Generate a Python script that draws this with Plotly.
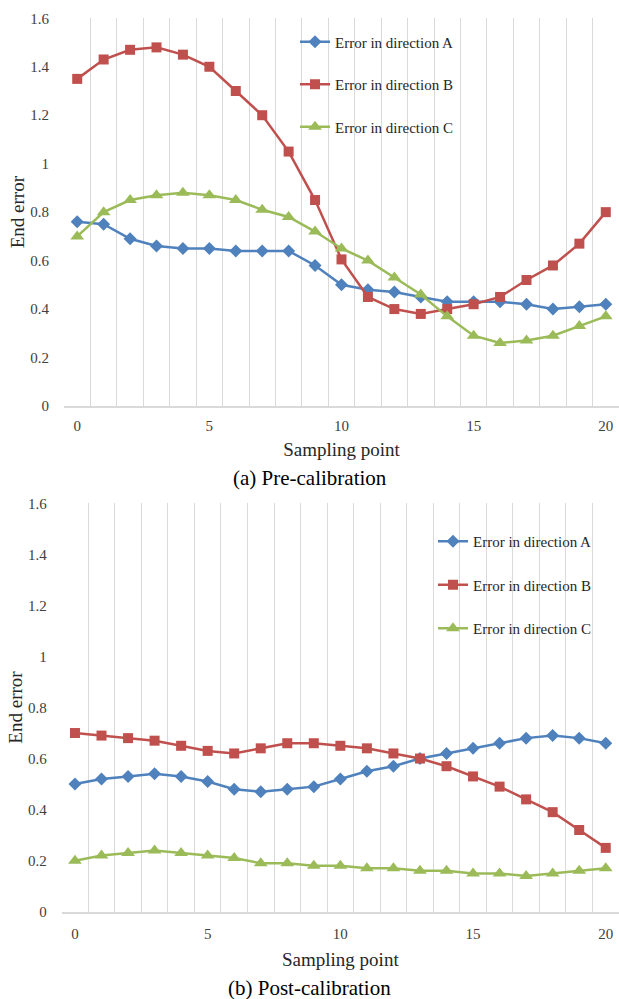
import plotly.graph_objects as go

# ---------------- data ----------------
sampling_points = list(range(21))

pre_a = [0.76, 0.75, 0.69, 0.66, 0.65, 0.65, 0.64, 0.64, 0.64, 0.58, 0.50,
         0.48, 0.47, 0.45, 0.43, 0.43, 0.43, 0.42, 0.40, 0.41, 0.42]
pre_b = [1.35, 1.43, 1.47, 1.48, 1.45, 1.40, 1.30, 1.20, 1.05, 0.85, 0.605,
         0.45, 0.40, 0.38, 0.40, 0.42, 0.45, 0.52, 0.58, 0.67, 0.80]
pre_c = [0.70, 0.80, 0.85, 0.87, 0.88, 0.87, 0.85, 0.81, 0.78, 0.72, 0.65,
         0.60, 0.53, 0.46, 0.37, 0.29, 0.26, 0.27, 0.29, 0.33, 0.37]

post_a = [0.50, 0.52, 0.53, 0.54, 0.53, 0.51, 0.48, 0.47, 0.48, 0.49, 0.52,
          0.55, 0.57, 0.60, 0.62, 0.64, 0.66, 0.68, 0.69, 0.68, 0.66]
post_b = [0.70, 0.69, 0.68, 0.67, 0.65, 0.63, 0.62, 0.64, 0.66, 0.66, 0.65,
          0.64, 0.62, 0.60, 0.57, 0.53, 0.49, 0.44, 0.39, 0.32, 0.25]
post_c = [0.20, 0.22, 0.23, 0.24, 0.23, 0.22, 0.21, 0.19, 0.19, 0.18, 0.18,
          0.17, 0.17, 0.16, 0.16, 0.15, 0.15, 0.14, 0.15, 0.16, 0.17]

series_names = ["Error in direction A", "Error in direction B", "Error in direction C"]
x_tick_vals = [0, 5, 10, 15, 20]
y_tick_vals = [0, 0.2, 0.4, 0.6, 0.8, 1.0, 1.2, 1.4, 1.6]
y_tick_text = ["0", "0.2", "0.4", "0.6", "0.8", "1", "1.2", "1.4", "1.6"]
grid_positions = [k - 0.5 for k in range(22)]
captions = ["(a) Pre-calibration", "(b) Post-calibration"]
x_title = "Sampling point"
y_title = "End error"

# ---------------- styles ----------------
COLORS = ["#4F81BD", "#C0504D", "#9BBB59"]
SYMBOLS = ["diamond", "square", "triangle-up"]
SIZES = [10, 10, 12]
SERIF = "Liberation Serif"
TICK_COLOR = "#404040"
GRID = "#d9d9d9"

W, H = 619, 999

fig = go.Figure()

panels = [
    (pre_a, pre_b, pre_c, "x", "y", "legend"),
    (post_a, post_b, post_c, "x2", "y2", "legend2"),
]
for pi, (a, b, c, xa, ya, lg) in enumerate(panels):
    for si, vals in enumerate([a, b, c]):
        fig.add_trace(go.Scatter(
            x=sampling_points, y=vals, mode="lines+markers",
            name=series_names[si], xaxis=xa, yaxis=ya, legend=lg,
            legendgroup=f"p{pi}s{si}",
            line=dict(color=COLORS[si], width=2.5),
            marker=dict(symbol=SYMBOLS[si], size=SIZES[si], color=COLORS[si]),
            cliponaxis=False,
        ))


def py(p):
    return 1 - p / H


def xaxis_cfg(left_px, ticklen, standoff):
    return dict(
        domain=[left_px / W, 1.0],
        range=[-0.5, 20.5],
        automargin=False,
        tickmode="array", tickvals=x_tick_vals,
        ticks="outside", ticklen=ticklen, tickcolor="rgba(0,0,0,0)",
        tickfont=dict(family=SERIF, size=15, color=TICK_COLOR),
        ticklabeloverflow="allow",
        showgrid=False, zeroline=False,
        showline=True, linecolor=GRID, linewidth=1.5,
        minor=dict(tickmode="array", tickvals=grid_positions, showgrid=True,
                   gridcolor=GRID, gridwidth=1, ticks=""),
        title=dict(text=x_title, font=dict(family=SERIF, size=19, color="#262626"),
                   standoff=standoff),
        fixedrange=True,
    )


def yaxis_cfg(bottom_px, top_px, anchor):
    return dict(
        domain=[py(bottom_px), py(top_px)],
        range=[0, 1.6],
        automargin=False,
        tickmode="array", tickvals=y_tick_vals, ticktext=y_tick_text,
        ticks="outside", ticklen=11, tickcolor="rgba(0,0,0,0)",
        tickfont=dict(family=SERIF, size=15, color=TICK_COLOR),
        showgrid=False, zeroline=False, showline=False,
        title=dict(text=y_title, font=dict(family=SERIF, size=19, color="#262626"),
                   standoff=0),
        anchor=anchor,
        fixedrange=True,
    )


fig.update_layout(
    width=W, height=H,
    margin=dict(l=0, r=0, t=0, b=0, autoexpand=False),
    paper_bgcolor="white", plot_bgcolor="white",
    font=dict(family=SERIF),
    showlegend=True,
    xaxis=dict(**xaxis_cfg(64, 5, 10), anchor="y"),
    yaxis=yaxis_cfg(406, 18.3, "x"),
    xaxis2=dict(**xaxis_cfg(61.7, 8, 11), anchor="y2"),
    yaxis2=yaxis_cfg(911.7, 503.3, "x2"),
    legend=dict(x=(315 - 20) / W, y=py(25.5), xanchor="left", yanchor="top",
                bgcolor="rgba(0,0,0,0)", traceorder="grouped", tracegroupgap=20,
                font=dict(family=SERIF, size=15, color="#262626")),
    legend2=dict(x=(453 - 20) / W, y=py(525), xanchor="left", yanchor="top",
                 bgcolor="rgba(0,0,0,0)", traceorder="grouped", tracegroupgap=21,
                 font=dict(family=SERIF, size=15, color="#262626")),
    annotations=[
        dict(text=captions[0], x=0.5, y=py(478.5), xref="paper", yref="paper",
             showarrow=False, xanchor="center", yanchor="middle",
             font=dict(family=SERIF, size=21, color="#000000")),
        dict(text=captions[1], x=0.5, y=py(988), xref="paper", yref="paper",
             showarrow=False, xanchor="center", yanchor="middle",
             font=dict(family=SERIF, size=21, color="#000000")),
    ],
)

fig.write_html(
    "out.html",
    config={"displayModeBar": False},
    post_script="document.body.style.margin='0';document.body.style.padding='0';",
)
